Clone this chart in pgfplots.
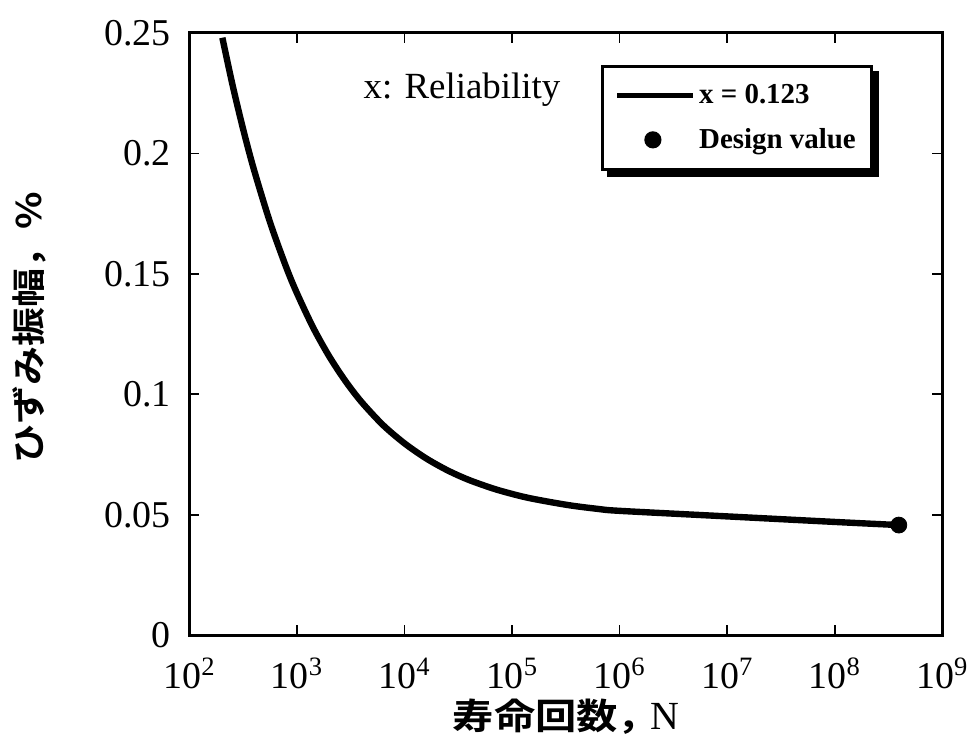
\documentclass[border=0pt]{standalone}
\usepackage{pgfplots}
\pgfplotsset{compat=1.18}
\usetikzlibrary{backgrounds}
\usepackage{fontspec}
\setmainfont{Liberation Serif}
\newfontfamily\cjk{Noto Sans CJK JP Bold}[FakeStretch=1.15]

\begin{document}
\begin{tikzpicture}
\begin{axis}[
  scale only axis, width=377.5pt, height=302pt,
  xmode=log, xmin=1e2, xmax=1e9, ymin=0, ymax=0.25,
  xtick={1e2,1e3,1e4,1e5,1e6,1e7,1e8,1e9},
  xticklabels={10\textsuperscript{2},10\textsuperscript{3},10\textsuperscript{4},10\textsuperscript{5},10\textsuperscript{6},10\textsuperscript{7},10\textsuperscript{8},10\textsuperscript{9}},
  ytick={0,0.05,0.1,0.15,0.2,0.25},
  yticklabels={0,0.05,0.1,0.15,0.2,0.25},
  xminorticks=false, yminorticks=false,
  tick align=inside, major tick length=5pt,
  tick style={line width=0.8pt, black},
  axis line style={line width=1.5pt},
  ticklabel style={font=\fontsize{19}{21}\selectfont},
  xticklabel style={yshift=-8pt},
  yticklabel style={xshift=-6pt},
  xlabel={{\cjk 寿命回数，}\hspace{-0.25em}{\fontsize{20}{22}\selectfont N}},
  ylabel={\cjk ひずみ振幅，\%},
  xlabel style={font=\fontsize{18}{20}\selectfont, at={(axis description cs:0.5,-0.135)}, anchor=center},
  ylabel style={font=\fontsize{17}{20}\selectfont, at={(axis description cs:-0.212,0.51)}, anchor=center},
  legend style={name=leg, at={(rel axis cs:0.547,0.947)}, anchor=north west,
    draw=black, line width=1.4pt, fill=white,
    font=\bfseries\fontsize{14.5}{16}\selectfont,
    row sep=7pt, inner xsep=6pt, inner ysep=7pt,
    cells={anchor=west}},
  clip=false,
]
% strain amplitude versus life, reliability x = 0.123
\addplot[black, line width=3.2pt, line join=round, smooth, tension=0.5,
  legend image code/.code={\draw[line width=2.4pt] (0pt,0pt) -- (38pt,0pt);}]
  coordinates {
  (202.3,0.2480) (251.2,0.2285) (316.2,0.2099) (398.1,0.1932) (562.3,0.1713)
  (794.3,0.1527) (1000,0.1419) (1412.5,0.1277) (1995.3,0.1157) (2818.4,0.1055)
  (3981.1,0.0968) (6309.6,0.0872) (10000,0.0796) (15849,0.0734) (25119,0.0684)
  (39811,0.0644) (70795,0.0605) (125893,0.0575) (199526,0.0557) (354813,0.0538)
  (630957,0.0524) (1000000,0.0516) (10000000,0.0493) (100000000,0.0470)
  (394500000,0.0457)
  };
\addlegendentry{x = 0.123}
\addplot[black, only marks, mark=*, mark size=4pt,
  legend image code/.code={\fill (18pt,0pt) circle (3.6pt);}]
  coordinates {(394500000,0.0457)};
\addlegendentry{Design value}
\node[font=\fontsize{18.5}{20}\selectfont] at (rel axis cs:0.362,0.906) {x: Reliability};
\end{axis}
% drop shadow behind the legend box
\begin{scope}[on background layer]
  \fill[black] ([shift={(3pt,-3pt)}]leg.south west) rectangle ([shift={(3pt,-3pt)}]leg.north east);
\end{scope}
\path ([xshift=-95pt,yshift=-57.5pt]current axis.south west) rectangle ([xshift=15pt,yshift=16.5pt]current axis.north east);
\end{tikzpicture}
\end{document}
